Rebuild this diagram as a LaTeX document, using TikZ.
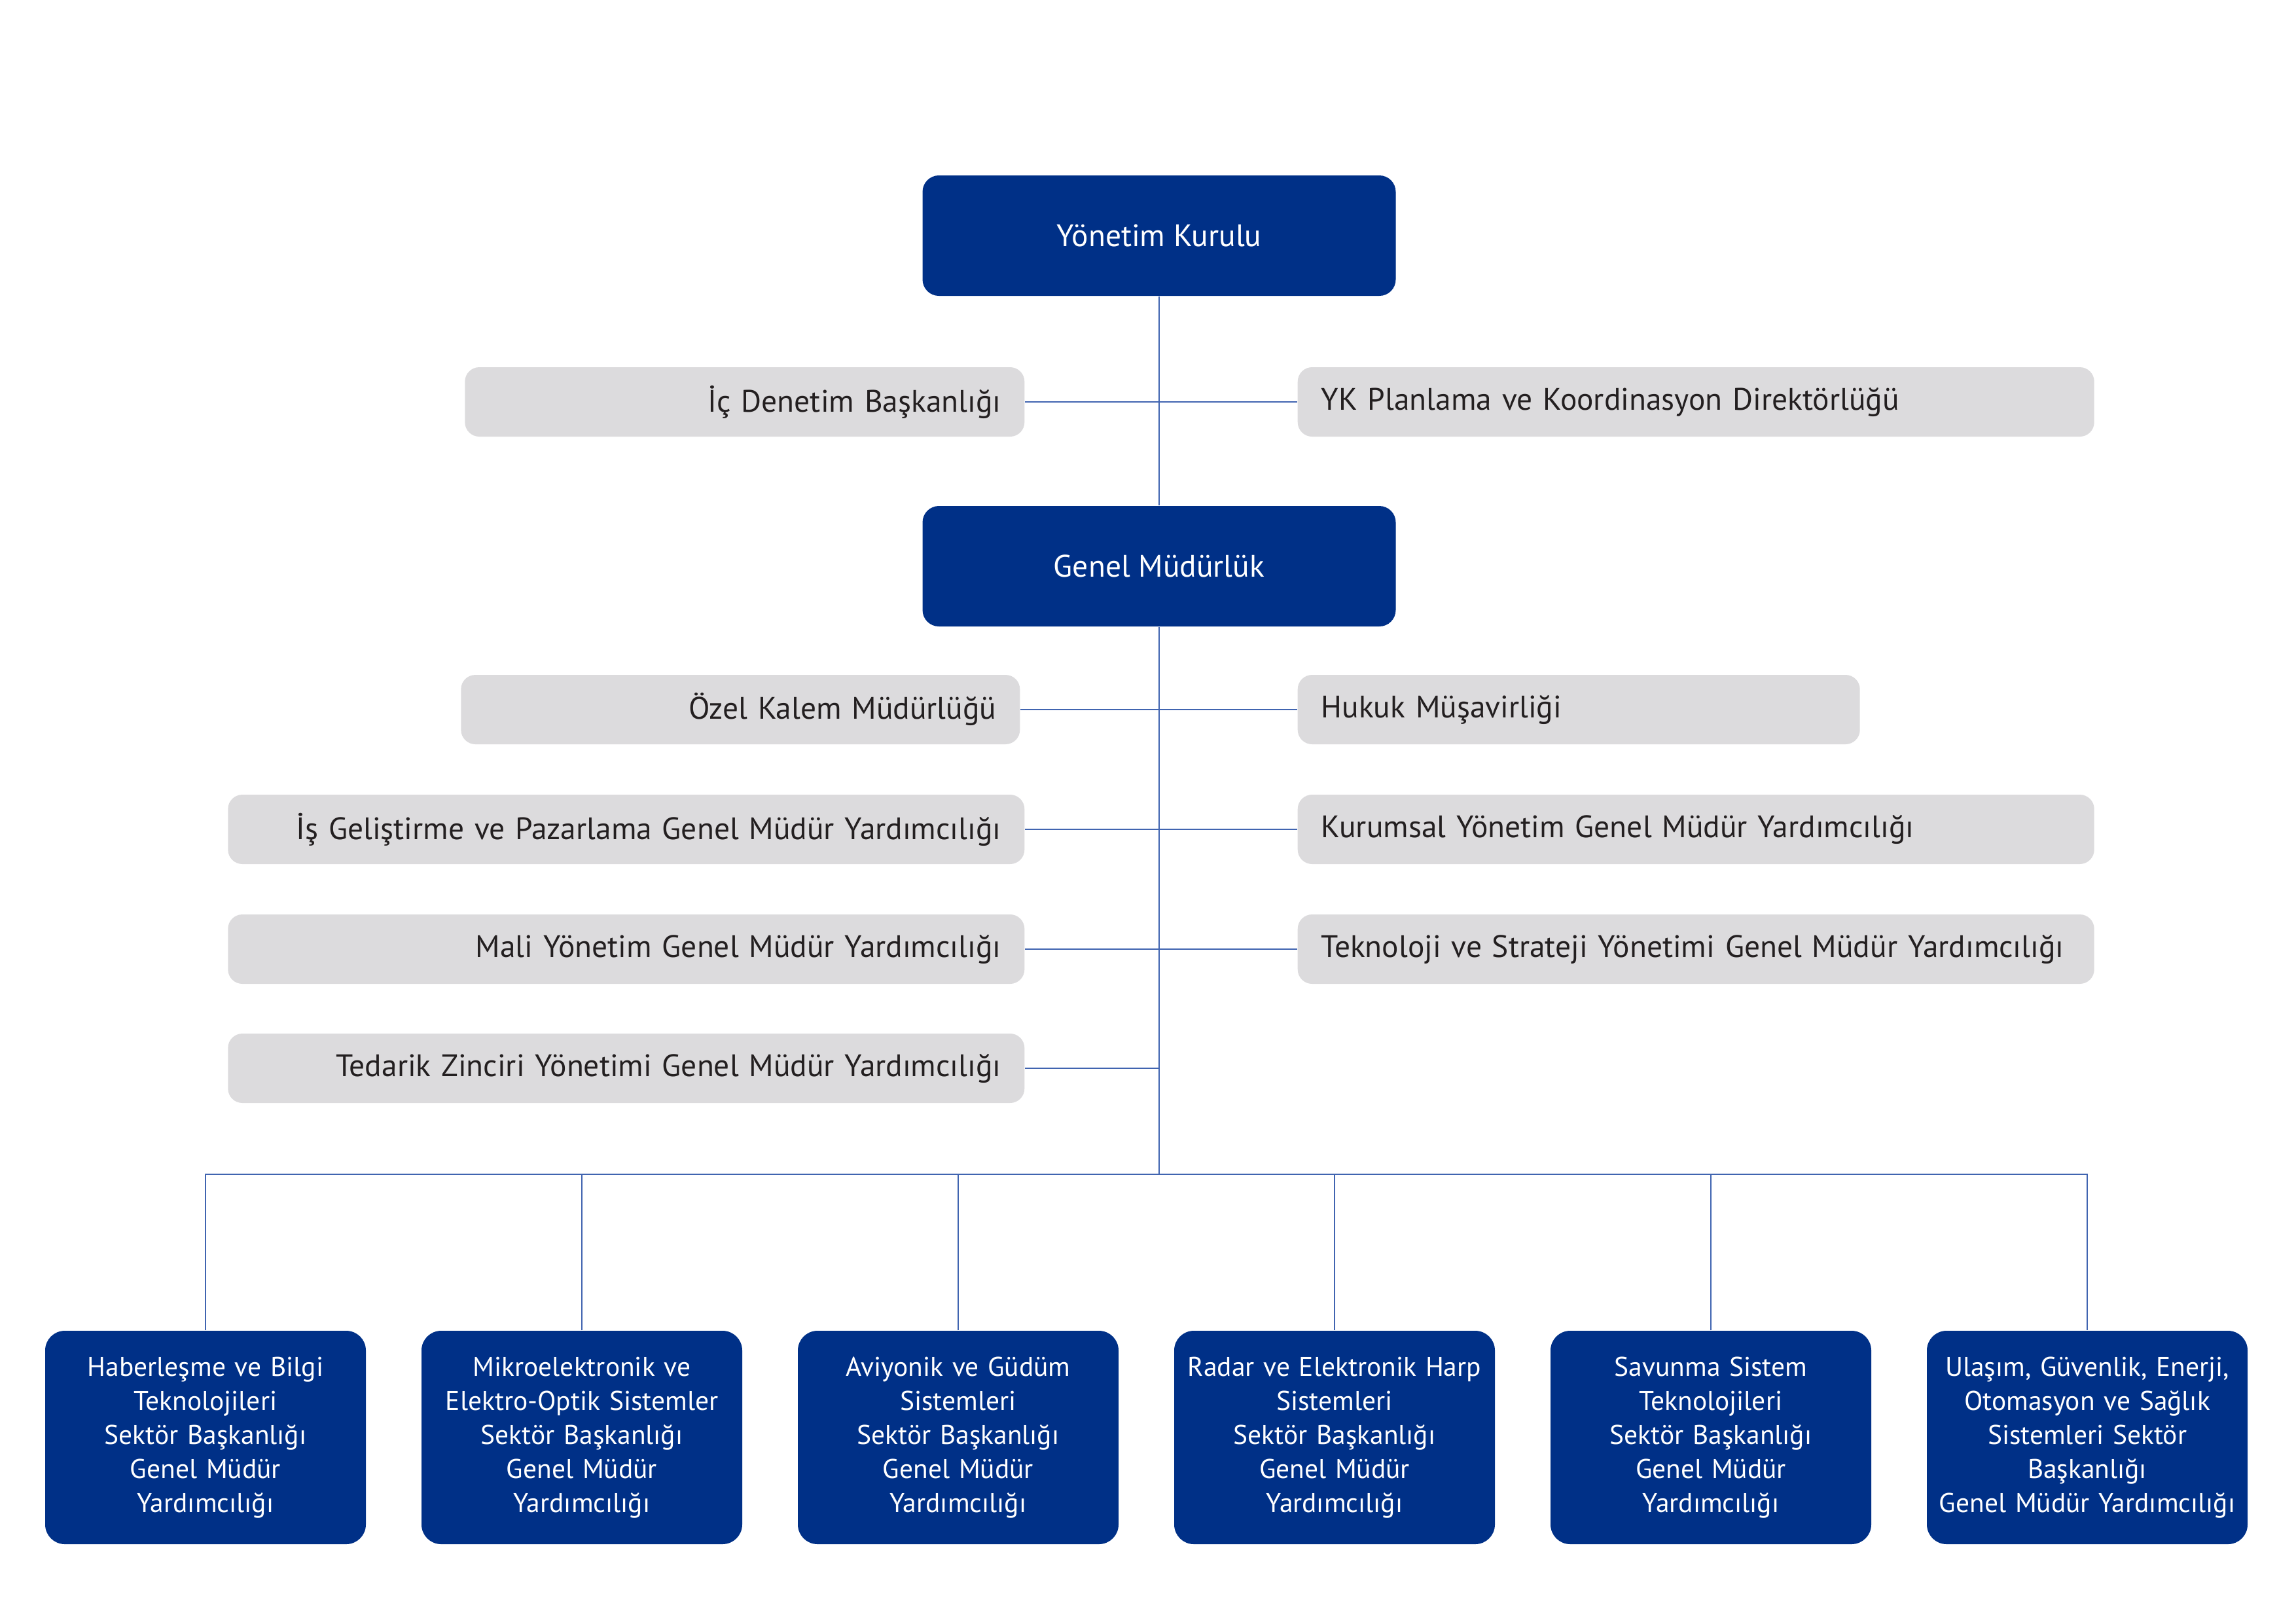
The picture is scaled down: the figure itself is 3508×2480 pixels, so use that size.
\documentclass[tikz,border=0pt]{standalone}
\usepackage{fontspec}
\setmainfont{PT Sans}
\definecolor{navy}{RGB}{0,48,135}
\definecolor{boxgray}{RGB}{220,219,221}
\definecolor{ink}{RGB}{35,31,32}
\definecolor{wire}{RGB}{64,100,176}
\tikzset{
  headbox/.style={fill=navy, text=white, rounded corners=2.5mm,
    minimum width=72.3mm, minimum height=18.4mm, inner sep=0pt},
  unitbox/.style={fill=boxgray, text=ink, rounded corners=2.2mm,
    minimum height=10.6mm, inner xsep=3.6mm, inner ysep=0pt},
  leftbox/.style={unitbox, anchor=east, text width=#1, align=right},
  rightbox/.style={unitbox, anchor=west, text width=#1, align=left},
  sectorbox/.style={fill=navy, text=white, rounded corners=3mm,
    minimum width=49mm, minimum height=32.6mm, inner sep=0pt,
    text width=49mm, align=center, font=\fontsize{11.8}{14.8}\selectfont},
  wireline/.style={draw=wire, line width=0.6pt}
}
\begin{document}
\begin{tikzpicture}[x=0.1mm, y=-0.1mm, font=\fontsize{13.5}{14.8}\selectfont]
  \useasboundingbox (0,0) rectangle (3508,2480);
  % top level
  \node[headbox] (yk) at (1771,360) {Yönetim Kurulu};
  \node[headbox] (gm) at (1771,865) {Genel Müdürlük};
  % staff units
  \node[leftbox=78.3mm]  (icd) at (1566,614)  {İç Denetim Başkanlığı};
  \node[rightbox=114.5mm] (ykp) at (1982,614) {YK Planlama ve Koordinasyon Direktörlüğü};
  \node[leftbox=78.2mm]  (ozk) at (1559,1084) {Özel Kalem Müdürlüğü};
  \node[rightbox=78.7mm]  (huk) at (1982,1084) {Hukuk Müşavirliği};
  \node[leftbox=114.5mm] (isg) at (1566,1267) {İş Geliştirme ve Pazarlama Genel Müdür Yardımcılığı};
  \node[rightbox=114.5mm] (kur) at (1982,1267) {Kurumsal Yönetim Genel Müdür Yardımcılığı};
  \node[leftbox=114.5mm] (mal) at (1566,1450) {Mali Yönetim Genel Müdür Yardımcılığı};
  \node[rightbox=114.5mm] (tek) at (1982,1450) {Teknoloji ve Strateji Yönetimi Genel Müdür Yardımcılığı};
  \node[leftbox=114.5mm] (ted) at (1566,1632) {Tedarik Zinciri Yönetimi Genel Müdür Yardımcılığı};
  % sector presidencies
  \node[sectorbox] (s1) at (314,2196)  {Haberleşme ve Bilgi\\Teknolojileri\\Sektör Başkanlığı\\Genel Müdür\\Yardımcılığı};
  \node[sectorbox] (s2) at (889,2196)  {Mikroelektronik ve\\Elektro-Optik Sistemler\\Sektör Başkanlığı\\Genel Müdür\\Yardımcılığı};
  \node[sectorbox] (s3) at (1464,2196) {Aviyonik ve Güdüm\\Sistemleri\\Sektör Başkanlığı\\Genel Müdür\\Yardımcılığı};
  \node[sectorbox] (s4) at (2039,2196) {Radar ve Elektronik Harp\\Sistemleri\\Sektör Başkanlığı\\Genel Müdür\\Yardımcılığı};
  \node[sectorbox] (s5) at (2614,2196) {Savunma Sistem\\Teknolojileri\\Sektör Başkanlığı\\Genel Müdür\\Yardımcılığı};
  \node[sectorbox] (s6) at (3189,2196) {Ulaşım, Güvenlik, Enerji,\\Otomasyon ve Sağlık\\Sistemleri Sektör\\Başkanlığı\\Genel Müdür Yardımcılığı};
  \coordinate (bus) at (1771,1794);
  \begin{scope}[wireline]
    \draw (yk) to (gm);
    \draw (icd) to (ykp);
    \draw (ozk) to (huk);
    \draw (isg) to (kur);
    \draw (mal) to (tek);
    \draw (ted.east) to (ted.east -| gm.south);
    \draw (gm) to (bus);
    \draw (s1.north) |- (bus) -| (s6.north);
    \draw (s2.north) to (s2.north |- bus);
    \draw (s3.north) to (s3.north |- bus);
    \draw (s4.north) to (s4.north |- bus);
    \draw (s5.north) to (s5.north |- bus);
  \end{scope}
\end{tikzpicture}
\end{document}
